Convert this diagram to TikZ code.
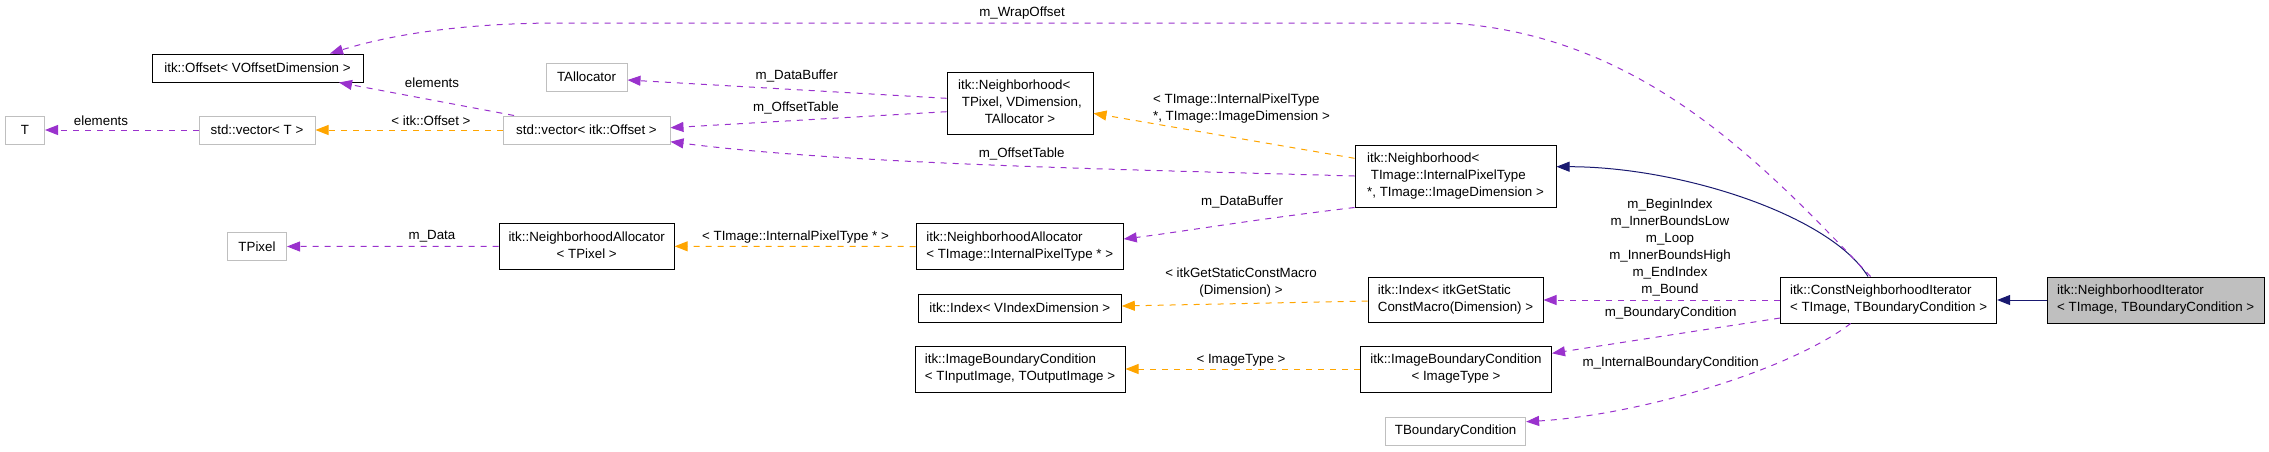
\documentclass[tikz,border=0pt]{standalone}
\usepackage{fontspec}
\setmainfont{Liberation Sans}
\usepackage{xcolor}
\usetikzlibrary{arrows.meta, calc}

\definecolor{grey75}{HTML}{BFBFBF}
\definecolor{orchid}{HTML}{9A32CD}
\definecolor{midnight}{HTML}{191970}
\definecolor{tmplorange}{HTML}{FFA500}

% left-aligned lines, the last one centred
\newcommand{\boxlines}[2]{\begin{tabular}{@{}l@{}}#1\\\multicolumn{1}{@{}c@{}}{#2}\end{tabular}}

\begin{document}
\begin{tikzpicture}[x=1pt, y=-1pt, font=\fontsize{13.33}{17}\selectfont,
    >={Triangle[length=13pt, width=10pt]},
    cls/.style={draw=black, line width=1pt, fill=white, inner sep=0pt, minimum height=28pt},
    ext/.style={cls, draw=grey75},
    usage/.style={->, draw=orchid, line width=1pt, dash pattern=on 6pt off 6pt},
    tmpl/.style={->, draw=tmplorange, line width=1pt, dash pattern=on 6pt off 6pt},
    inh/.style={->, draw=midnight, line width=1pt},
    lbl/.style={inner sep=0pt, align=center}]
        \useasboundingbox (0,0) rectangle (2269,451);

        % --- Left column ---
        \node[ext, minimum width=39pt] (tnode) at (25,130) {T};
        \node[cls, minimum width=211pt] (offset) at (257.5,68) {itk::Offset< VOffsetDimension >};
        \node[ext, minimum width=116pt] (vect) at (257,130) {std::vector< T >};
        \node[ext, minimum width=59pt] (tpixel) at (257,246.5) {TPixel};

        % --- Second column ---
        \node[ext, minimum width=81pt] (talloc) at (586.5,77) {TAllocator};
        \node[ext, minimum width=167pt] (vecoff) at (586.5,130) {std::vector< itk::Offset >};
        \node[cls, minimum width=175pt, minimum height=46pt] (nalloc) at (586.7,246.3)
            {\boxlines{itk::NeighborhoodAllocator}{< TPixel >}};

        % --- Third column ---
        \node[cls, minimum width=146pt, minimum height=62pt] (nbhd) at (1020,103)
            {\boxlines{itk::Neighborhood<\\\ TPixel, VDimension,}{TAllocator >}};
        \node[cls, minimum width=207pt, minimum height=46pt] (nallocti) at (1019.7,246.5)
            {\boxlines{itk::NeighborhoodAllocator}{< TImage::InternalPixelType * >}};
        \node[cls, minimum width=203pt] (idx) at (1019.8,308) {itk::Index< VIndexDimension >};
        \node[cls, minimum width=210pt, minimum height=46pt] (ibc) at (1020,369)
            {\boxlines{itk::ImageBoundaryCondition}{< TInputImage, TOutputImage >}};

        % --- Fourth column ---
        \node[cls, minimum width=201pt, minimum height=62pt] (nbt) at (1455.5,176)
            {\boxlines{itk::Neighborhood<\\\ TImage::InternalPixelType}{*, TImage::ImageDimension >}};
        \node[cls, minimum width=175pt, minimum height=45pt] (idxd) at (1455.5,300)
            {\boxlines{itk::Index< itkGetStatic}{ConstMacro(Dimension) >}};
        \node[cls, minimum width=191pt, minimum height=46pt] (ibci) at (1456,369)
            {\boxlines{itk::ImageBoundaryCondition}{< ImageType >}};
        \node[ext, minimum width=140pt] (tbc) at (1455.6,431) {TBoundaryCondition};

        % --- Iterators ---
        \node[cls, minimum width=216pt, minimum height=46pt] (cni) at (1888.6,300)
            {\boxlines{itk::ConstNeighborhoodIterator}{< TImage, TBoundaryCondition >}};
        \node[cls, fill=grey75, minimum width=217pt, minimum height=46pt] (ni) at (2155.7,300)
            {\boxlines{itk::NeighborhoodIterator}{< TImage, TBoundaryCondition >}};

        % --- Inheritance ---
        \draw[inh] (ni.west) -- (cni.east);
        \draw[inh] ([xshift=-20.6pt]cni.north) .. controls (1830,215) and (1680,166.7) .. ([yshift=9.3pt]nbt.east);

        % --- Template instances ---
        \draw[tmpl] (vecoff.west) -- (vect.east);
        \node[lbl] (lbloff) at (431,121) {< itk::Offset >};
        \draw[tmpl] ([yshift=17.7pt]nbt.west) -- ([yshift=-10.3pt]nbhd.east);
        \node[lbl] (lblnbt) at (1241.5,108.5) {\boxlines{< TImage::InternalPixelType}{*, TImage::ImageDimension >}};
        \draw[tmpl] (nallocti.west) -- (nalloc.east);
        \node[lbl] (lblalloc) at (795.5,236.7) {< TImage::InternalPixelType * >};
        \draw[tmpl] ([yshift=-1pt]idxd.west) -- ([yshift=2pt]idx.east);
        \node[lbl] (lblidx) at (1241,283) {< itkGetStaticConstMacro\\(Dimension) >};
        \draw[tmpl] (ibci.west) -- (ibc.east);
        \node[lbl] (lblibc) at (1241,360) {< ImageType >};

        % --- Members ---
        \draw[usage] (vect.west) -- (tnode.east);
        \node[lbl] (lblelt) at (101,121) {elements};
        \draw[usage] ([xshift=-72.5pt]vecoff.north) -- ([xshift=81.5pt]offset.south);
        \node[lbl] (lbleltb) at (432,83) {elements};
        \draw[usage] (nalloc.west) -- (tpixel.east);
        \node[lbl] (lbldata) at (432,236.7) {m\_Data};
        \draw[usage] ([yshift=4.7pt]nbhd.west) -- ([yshift=-3pt]talloc.east);
        \node[lbl] (lblbuf) at (796.7,75.7) {m\_DataBuffer};
        \draw[usage] ([yshift=-8.7pt]nbhd.west) -- ([yshift=2.3pt]vecoff.east);
        \node[lbl] (lbltab) at (796,107.7) {m\_OffsetTable};
        \draw[usage] (nbt.west) .. controls (1150,170) and (850,165) .. ([yshift=-11.7pt]vecoff.east);
        \node[lbl] (lbltabb) at (1021.7,154.3) {m\_OffsetTable};
        \draw[usage] (nbt.south west) .. controls (1250,220) and (1180,232) .. ([yshift=7.5pt]nallocti.east);
        \node[lbl] (lblbufb) at (1242,202.3) {m\_DataBuffer};
        \draw[usage] (cni.west) -- (idxd.east);
        \node[lbl] (lblidxd) at (1670,247) {m\_BeginIndex\\m\_InnerBoundsLow\\m\_Loop\\m\_InnerBoundsHigh\\m\_EndIndex\\m\_Bound};
        \draw[usage] ([yshift=-18pt]cni.west) -- ([yshift=15.7pt]ibci.east);
        \node[lbl] (lblbc) at (1670.7,312.7) {m\_BoundaryCondition};
        \draw[usage] ([xshift=-38pt]cni.south) .. controls (1790,370) and (1640,415) .. ([yshift=9.3pt]tbc.east);
        \node[lbl] (lblibcd) at (1670.7,362.7) {m\_InternalBoundaryCondition};

        % --- Wrap offset ---
        \coordinate (wrapA) at (1450,23);
        \coordinate (wrapB) at (560,23);
        \draw[usage] ([xshift=-18pt]cni.north) .. controls (1760,160) and (1640,35) .. (wrapA)
            -- (wrapB) .. controls (450,23) and (380,38) .. ([xshift=72.5pt]offset.north);
        \node[lbl] (lblwrap) at (1022,12.7) {m\_WrapOffset};
\end{tikzpicture}
\end{document}
